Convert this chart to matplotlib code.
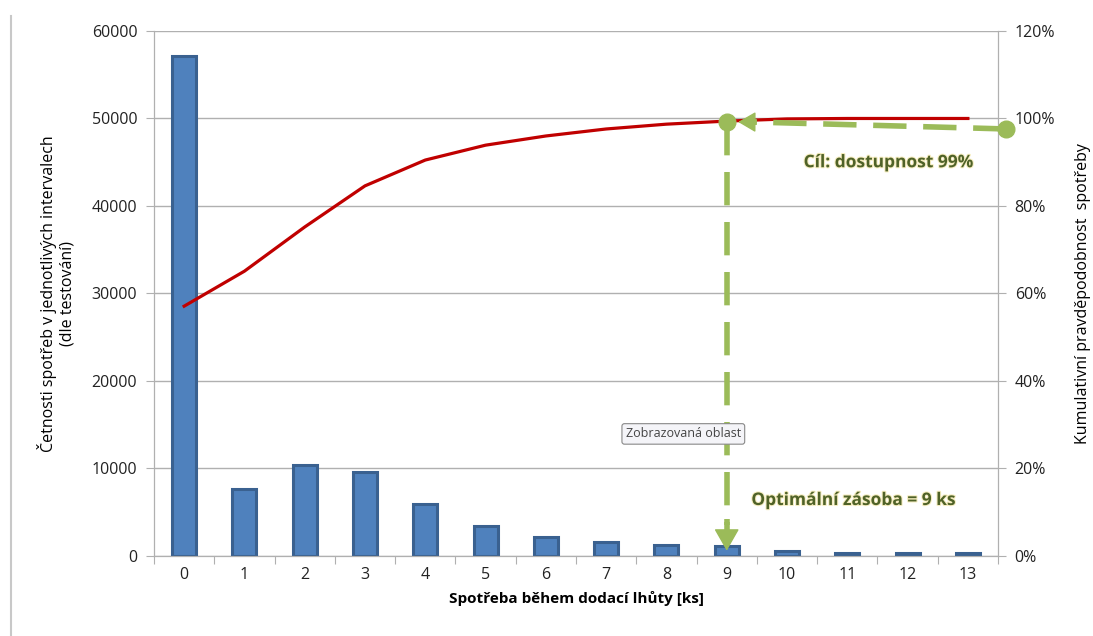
import matplotlib
matplotlib.use("Agg")
import matplotlib.pyplot as plt
from matplotlib.ticker import FixedLocator, PercentFormatter, NullFormatter
import matplotlib.patheffects as pe

categories = list(range(14))
counts = [57100, 7650, 10400, 9600, 5950, 3450, 2200, 1650, 1250, 1100, 600, 350, 350, 350]
cumulative = [57.1, 65.1, 75.2, 84.6, 90.5, 93.9, 96.0, 97.6, 98.7, 99.4, 99.9, 100.0, 100.0, 100.0]
target_pct = 99.2
target_x = 9
goal_start = (13.64, 97.6)

xlabel = "Spotřeba během dodací lhůty [ks]"
ylabel_left = "Četnosti spotřeb v jednotlivých intervalech\n(dle testování)"
ylabel_right = "Kumulativní pravděpodobnost  spotřeby"
text_goal = "Cíl: dostupnost 99%"
text_opt = "Optimální zásoba = 9 ks"
text_tip = "Zobrazovaná oblast"

plt.rcParams['font.family'] = ['Open Sans', 'DejaVu Sans']

fig = plt.figure(figsize=(10.93, 6.36), dpi=100)
ax = fig.add_axes([0.1409, 0.1258, 0.7722, 0.8255])
ax2 = ax.twinx()

grid_c = '#B0B0B0'
ax.bar(categories, counts, width=0.4, color='#4F81BD', edgecolor='#3A6190', linewidth=2.2, zorder=3)
ax.set_xlim(-0.5, 13.5)
ax.set_ylim(0, 60000)
ax.set_yticks(range(0, 60001, 10000))
ax.yaxis.grid(True, color=grid_c, linewidth=1)
ax.set_axisbelow(True)
ax.xaxis.set_major_locator(FixedLocator([i - 0.5 for i in range(15)]))
ax.xaxis.set_major_formatter(NullFormatter())
ax.xaxis.set_minor_locator(FixedLocator(categories))
ax.set_xticklabels([str(c) for c in categories], minor=True)
ax.tick_params(axis='x', which='major', length=6, color=grid_c)
ax.tick_params(axis='x', which='minor', length=0, labelsize=11.5, colors='#222222', pad=8)
ax.tick_params(axis='y', length=6, color=grid_c, labelsize=11.5, labelcolor='#222222', pad=6)

ax2.set_ylim(0, 120)
ax2.set_yticks(range(0, 121, 20))
ax2.yaxis.set_major_formatter(PercentFormatter(decimals=0))
ax2.tick_params(axis='y', length=6, color=grid_c, labelsize=11.5, labelcolor='#222222', pad=6)

for a in (ax, ax2):
    for s in a.spines.values():
        s.set_color(grid_c)
    a.spines['top'].set_visible(False)

ax2.plot(categories, cumulative, color='#C00000', linewidth=2.3, zorder=4)

ax.set_xlabel(xlabel, fontsize=11, fontweight='bold', labelpad=6)
ax.set_ylabel(ylabel_left, fontsize=11.5, labelpad=12, linespacing=1.2)
ax2.set_ylabel(ylabel_right, fontsize=11.5, labelpad=14)

green = '#9BBB59'
dash = (6, 3)
# horizontal goal arrow
ax2.plot([goal_start[0], target_x + 0.42], [goal_start[1], target_pct], color=green,
         linewidth=4, dashes=dash, clip_on=False, zorder=5, solid_capstyle='butt')
ax2.plot([target_x + 0.5, target_x + 0.3], [target_pct - 0.02, target_pct], color=green,
         linewidth=4, zorder=5, solid_capstyle='butt')
ax2.annotate('', xy=(target_x + 0.19, target_pct), xytext=(target_x + 0.45, target_pct - 0.02),
             arrowprops=dict(arrowstyle='-|>,head_length=0.55,head_width=0.32', color=green, lw=1,
                             mutation_scale=20, shrinkA=0, shrinkB=0), zorder=6, annotation_clip=False)
# vertical arrow
ax2.plot([target_x, target_x], [target_pct, 7.0], color=green, linewidth=4, dashes=dash, zorder=5)
ax2.plot([target_x, target_x], [8.5, 4.0], color=green, linewidth=4, zorder=5, solid_capstyle='butt')
ax2.annotate('', xy=(target_x, 1.2), xytext=(target_x, 7.0),
             arrowprops=dict(arrowstyle='-|>,head_length=0.7,head_width=0.4', color=green, lw=1,
                             mutation_scale=20, shrinkA=0, shrinkB=0), zorder=6)
ax2.plot([goal_start[0], target_x], [goal_start[1], target_pct], linestyle='none', marker='o',
         markersize=12, color=green, clip_on=False, zorder=7)

glow = [pe.withStroke(linewidth=1.5, foreground='#F6EDC0')]
ax2.text(11.68, 90.0, text_goal, fontsize=12.5, fontweight='bold', color='#4F6228',
         ha='center', va='center', path_effects=glow, zorder=8)
ax2.text(11.1, 12.8, text_opt, fontsize=12.5, fontweight='bold', color='#4F6228',
         ha='center', va='center', path_effects=glow, zorder=8)
ax2.text(8.28, 27.9, text_tip, fontsize=9, color='#444444', ha='center', va='center', zorder=9,
         bbox=dict(boxstyle='round,pad=0.3,rounding_size=0.2', facecolor='#F4F4F8', edgecolor='#888888', linewidth=0.8))

fig.add_artist(plt.Line2D([0.0105, 0.0105], [0.0, 0.975], color='#C8C8C8', linewidth=1.5))

fig.savefig('out.png', dpi=100)
